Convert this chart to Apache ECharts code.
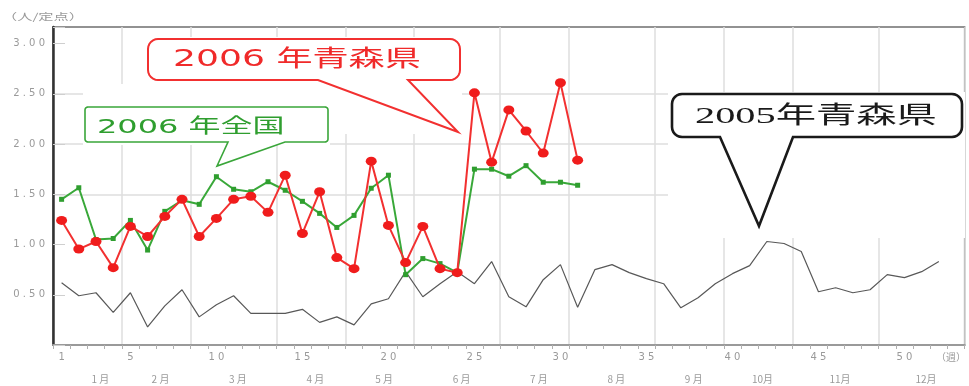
<!DOCTYPE html>
<html>
<head>
<meta charset="utf-8">
<script src="https://cdn.jsdelivr.net/npm/echarts@6/dist/echarts.min.js"></script>
<style>
  html, body { margin: 0; padding: 0; background: #fff; }
  #chart { width: 969px; height: 386px; }
</style>
</head>
<body>
<div id="chart"></div>
<script>
// week categories (53 slots, the last one only carries the unit label)
const weeks = ['1','2','3','4','5','6','7','8','9','10','11','12','13','14','15','16','17','18','19','20',
  '21','22','23','24','25','26','27','28','29','30','31','32','33','34','35','36','37','38','39','40',
  '41','42','43','44','45','46','47','48','49','50','51','52','53'];
const labeledWeeks = ['1', '5', '10', '15', '20', '25', '30', '35', '40', '45', '50'];
const weekUnit = '（週）';

// month row: labels and their half-week slot (106 slots)
const monthLabels = ['1 月', '2 月', '3 月', '4 月', '5 月', '6 月', '7 月', '8 月', '9 月', '10月', '11月', '12月'];
const monthSlots = [5, 12, 21, 30, 38, 47, 56, 65, 74, 82, 91, 101];
// week index where a new month starts (vertical grid lines)
const monthStarts = [4, 8, 13, 17, 21, 26, 30, 35, 39, 43, 48];

const yTickLabels = { '0.5': '0.50', '1': '1.00', '1.5': '1.50', '2': '2.00', '2.5': '2.50', '3': '3.00' };

// 人/定点
const aomori2006 = [1.24, 0.955, 1.03, 0.77, 1.18, 1.08, 1.28, 1.45, 1.08, 1.26, 1.45, 1.48, 1.32, 1.69, 1.11,
  1.525, 0.87, 0.76, 1.83, 1.19, 0.82, 1.18, 0.76, 0.72, 2.51, 1.82, 2.34, 2.13, 1.91, 2.61, 1.84];
const national2006 = [1.45, 1.565, 1.05, 1.06, 1.24, 0.945, 1.33, 1.44, 1.40, 1.675, 1.55, 1.525, 1.625, 1.54, 1.43,
  1.31, 1.17, 1.29, 1.56, 1.69, 0.70, 0.86, 0.81, 0.72, 1.75, 1.75, 1.68, 1.785, 1.62, 1.62, 1.59];
const aomori2005 = [0.62, 0.49, 0.52, 0.325, 0.52, 0.18, 0.39, 0.55, 0.28, 0.40, 0.49, 0.315, 0.315, 0.315, 0.355,
  0.225, 0.28, 0.20, 0.41, 0.46, 0.73, 0.48, 0.61, 0.73, 0.61, 0.83, 0.48, 0.38, 0.65, 0.80, 0.375, 0.75, 0.80,
  0.72, 0.66, 0.61, 0.37, 0.47, 0.61, 0.71, 0.79, 1.03, 1.01, 0.93, 0.53, 0.57, 0.52, 0.55, 0.70, 0.67, 0.73, 0.83];

const spaced = s => s.split('').join(' ');
const labelGrey = '#9a9a9a';

const slotIds = [];
for (let i = 0; i < 106; i += 1) slotIds.push('s' + i);

const chart = echarts.init(document.getElementById('chart'));

// callout outline: rounded box with a wedge, as polygon points
const arc = (cx, cy, r, a0, a1) => {
  const pts = [];
  for (let k = 0; k <= 6; k += 1) {
    const a = a0 + (a1 - a0) * k / 6;
    pts.push([cx + r * Math.cos(a), cy + r * Math.sin(a)]);
  }
  return pts;
};
const calloutPoints = (l, t, r, b, rad, bx1, bx2, tip) => [
  ...arc(l + rad, t + rad, rad, Math.PI, 1.5 * Math.PI),
  ...arc(r - rad, t + rad, rad, 1.5 * Math.PI, 2 * Math.PI),
  ...arc(r - rad, b - rad, rad, 0, 0.5 * Math.PI),
  [bx2, b], tip, [bx1, b],
  ...arc(l + rad, b - rad, rad, 0.5 * Math.PI, Math.PI)
];

const calloutText = (x, y, text, color, font, sx) => ({
  type: 'text', x, y, z: 12, scaleX: sx, scaleY: 1,
  style: { text, fill: color, font, align: 'left', verticalAlign: 'middle', textAlign: 'left', textVerticalAlign: 'middle' }
});

chart.setOption({
  animation: false,
  backgroundColor: '#fff',
  grid: {
    left: 53, right: -2, top: 27, bottom: 41,
    show: true, borderColor: '#6f6f6f', borderWidth: 1.5
  },
  xAxis: [
    {
      type: 'category',
      data: weeks,
      boundaryGap: true,
      axisLine: { lineStyle: { color: '#9a9a9a', width: 2 } },
      axisTick: { show: true, interval: 0, length: 4, lineStyle: { color: '#b0b0b0' } },
      axisLabel: {
        interval: 0, margin: 7, color: labelGrey, fontFamily: 'DejaVu Sans', fontSize: 10,
        formatter: (v, i) => {
          if (i === weeks.length - 1) return '{u|' + weekUnit + '}';
          return labeledWeeks.includes(v) ? spaced(v) : '';
        },
        rich: { u: { fontFamily: 'Noto Sans CJK JP', fontSize: 10, color: labelGrey, padding: [0, 10, 0, 0] } }
      },
      splitLine: {
        show: true,
        interval: i => monthStarts.includes(i),
        lineStyle: { color: '#dedede', width: 1.5 }
      }
    },
    {
      type: 'category',
      data: slotIds,
      position: 'bottom',
      offset: 22,
      boundaryGap: true,
      axisLine: { show: false },
      axisTick: { show: false },
      axisLabel: {
        interval: 0, margin: 7, color: labelGrey, fontFamily: 'Noto Sans CJK JP', fontSize: 10,
        formatter: (v, i) => {
          const k = monthSlots.indexOf(i);
          return k >= 0 ? monthLabels[k] : '';
        }
      },
      splitLine: { show: false }
    }
  ],
  yAxis: {
    type: 'value',
    min: 0, max: 3.165, interval: 0.5,
    axisLine: { show: true, lineStyle: { color: '#333', width: 2.5 } },
    axisTick: { show: true, inside: true, length: 12, lineStyle: { color: '#cfcfcf' } },
    axisLabel: {
      margin: 8, color: labelGrey, fontFamily: 'DejaVu Sans', fontSize: 10,
      formatter: v => (yTickLabels[String(v)] ? spaced(yTickLabels[String(v)]) : '')
    },
    splitLine: {
      show: true,
      lineStyle: {
        color: ['rgba(0,0,0,0)', 'rgba(0,0,0,0)', 'rgba(0,0,0,0)', '#dedede', '#dedede', '#dedede', 'rgba(0,0,0,0)', 'rgba(0,0,0,0)'],
        width: 1.5
      }
    }
  },
  series: [
    {
      name: '2005年青森県', type: 'line', data: aomori2005,
      symbol: 'none', lineStyle: { color: '#585858', width: 1.2 }, z: 3
    },
    {
      name: '2006年全国', type: 'line', data: national2006,
      symbol: 'rect', symbolSize: 5, itemStyle: { color: '#2f9e2f' },
      lineStyle: { color: '#39a839', width: 2 }, z: 4
    },
    {
      name: '2006年青森県', type: 'line', data: aomori2006,
      symbol: 'circle', symbolSize: [11, 9], itemStyle: { color: '#f01c1c' },
      lineStyle: { color: '#f23030', width: 2 }, z: 5
    }
  ],
  graphic: [
    // white areas behind the callouts
    { type: 'rect', z: 1, shape: { x: 146, y: 37, width: 316, height: 97 }, style: { fill: '#fff' } },
    { type: 'rect', z: 1, shape: { x: 83, y: 84, width: 247, height: 61 }, style: { fill: '#fff' } },
    { type: 'rect', z: 1, shape: { x: 668, y: 92, width: 297, height: 146 }, style: { fill: '#fff' } },
    {
      type: 'polygon', z: 10,
      shape: { points: calloutPoints(148, 39, 460, 80, 10, 318, 408, [458, 132]) },
      style: { fill: '#fff', stroke: '#f23030', lineWidth: 2 }
    },
    {
      type: 'polygon', z: 10,
      shape: { points: calloutPoints(85, 107, 328, 142, 3, 228, 285, [217, 166]) },
      style: { fill: '#fff', stroke: '#3aa63a', lineWidth: 1.6 }
    },
    {
      type: 'polygon', z: 10,
      shape: { points: calloutPoints(672, 94, 962, 137, 10, 720, 793, [759, 226]) },
      style: { fill: '#fff', stroke: '#1a1a1a', lineWidth: 2.6 }
    },
    calloutText(173, 60, '2006 年青森県', '#f02a2a', '23px "DejaVu Sans", "Noto Sans CJK JP"', 1.57),
    calloutText(97, 128, '2006 年全国', '#2f9e2f', '20px "DejaVu Sans", "Noto Sans CJK JP"', 1.6),
    calloutText(695, 117, '2005年青森県', '#1a1a1a', '24px "Liberation Serif", "Noto Sans CJK JP"', 1.68),
    {
      type: 'text', x: 2, y: 16, z: 12, scaleX: 1.6,
      style: { text: '（人/定点）', fill: labelGrey, font: '9.5px "Noto Sans CJK JP"', align: 'left', verticalAlign: 'middle' }
    }
  ]
});
</script>
</body>
</html>
